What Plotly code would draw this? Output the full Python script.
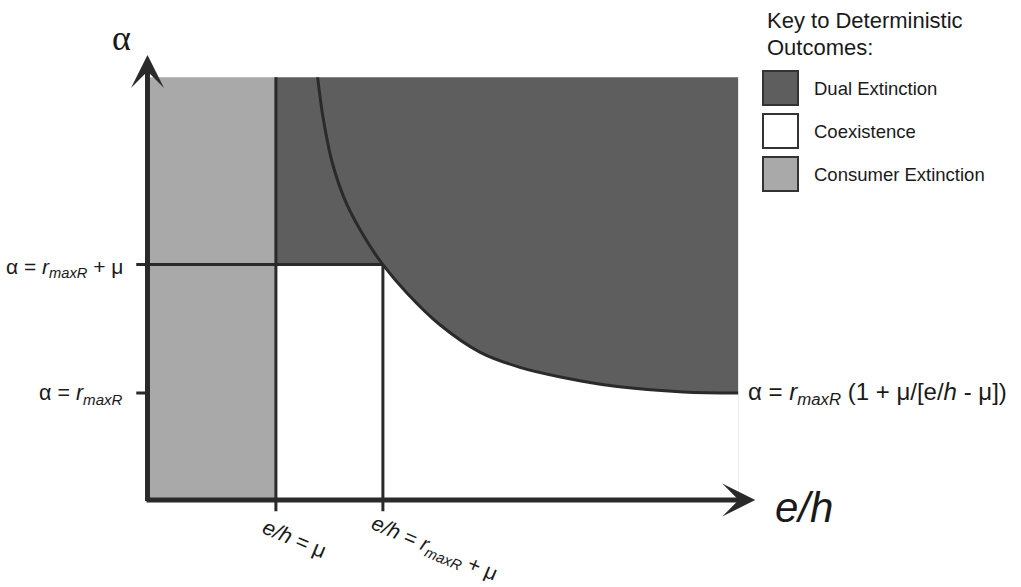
import plotly.graph_objects as go

# ---- model quantities (axis units) ----
mu = 1.2            # consumer mortality
r_max = 1.0         # maximum resource growth rate, r_maxR
eh_mu = mu                  # e/h = mu
eh_rmu = r_max + mu         # e/h = r_maxR + mu
alpha_r = r_max             # alpha = r_maxR
alpha_rmu = r_max + mu      # alpha = r_maxR + mu
x_end, y_top = 5.52, 3.95   # extent of the shaded parameter space
x_tip, y_tip = 5.68, 4.16   # axis arrow tips

# boundary alpha = r_maxR (1 + mu/[e/h - mu]), sampled along the drawn curve
curve_x = [1.59, 1.64, 1.73, 1.86, 2.05, 2.20, 2.42, 2.73, 3.11, 3.48, 3.86, 4.39, 5.01, 5.52]
curve_y = [3.95, 3.58, 3.14, 2.77, 2.42, 2.20, 1.94, 1.64, 1.38, 1.24, 1.15, 1.06, 1.01, 1.00]

legend_labels = ["Dual Extinction", "Coexistence", "Consumer Extinction"]

DARK = "#5e5e5e"
LIGHT = "#a9a9a9"
WHITE = "#ffffff"
LINE = "#2a2a2a"
legend_colors = [DARK, WHITE, LIGHT]

# ---- page geometry ----
W, H = 1021, 587
ox, oy, scale = 147.5, 500.0, 107.0   # pixel position of the origin, pixels per unit


def paper(xp, yp):
    return xp / W, 1 - yp / H


fig = go.Figure()

# white region below the boundary curve (right of e/h = r_maxR + mu)
i0 = curve_x.index(eh_rmu)
fig.add_trace(go.Scatter(
    x=curve_x[i0:], y=curve_y[i0:], mode="lines",
    line=dict(width=0, shape="spline", color=WHITE),
    fill="tozeroy", fillcolor=WHITE, hoverinfo="skip", showlegend=False))

# boundary curve
fig.add_trace(go.Scatter(
    x=curve_x, y=curve_y, mode="lines",
    line=dict(width=3, shape="spline", color=LINE),
    hoverinfo="skip", showlegend=False))

shapes = [
    # consumer extinction
    dict(type="rect", x0=0, x1=eh_mu, y0=0, y1=y_top, fillcolor=LIGHT,
         line=dict(width=0), layer="below"),
    # dual extinction
    dict(type="rect", x0=eh_mu, x1=x_end, y0=0, y1=y_top, fillcolor=DARK,
         line=dict(width=0), layer="below"),
    # coexistence block
    dict(type="rect", x0=eh_mu, x1=eh_rmu, y0=0, y1=alpha_rmu, fillcolor=WHITE,
         line=dict(width=0), layer="below"),
]

tick = 0.105
line_style = dict(color=LINE, width=3)
shapes += [
    dict(type="line", x0=eh_mu, x1=eh_mu, y0=-tick, y1=y_top, line=line_style),
    dict(type="line", x0=eh_rmu, x1=eh_rmu, y0=-tick, y1=alpha_rmu, line=line_style),
    dict(type="line", x0=-tick, x1=eh_rmu, y0=alpha_rmu, y1=alpha_rmu, line=line_style),
    dict(type="line", x0=-tick, x1=0, y0=alpha_r, y1=alpha_r, line=line_style),
]

# key boxes
box_rows = [(71, 105), (114, 148), (157, 191)]
for (t, b), col in zip(box_rows, legend_colors):
    x0, y0 = paper(763, b)
    x1, y1 = paper(798, t)
    shapes.append(dict(type="rect", xref="paper", yref="paper", x0=x0, x1=x1, y0=y0, y1=y1,
                       fillcolor=col, line=dict(color="#333333", width=2)))

fig.update_layout(shapes=shapes)

annotations = []
half = 2.5 / scale
# axes with arrow heads
for tip, tail in (((0, y_tip), (0, -half)), ((x_tip, 0), (-half, 0))):
    annotations.append(dict(x=tip[0], y=tip[1], ax=tail[0], ay=tail[1],
                            xref="x", yref="y", axref="x", ayref="y",
                            text="", showarrow=True, arrowhead=3, arrowsize=1.1,
                            arrowwidth=5, arrowcolor=LINE, standoff=0))

SANS = "Liberation Sans, Arial, sans-serif"


def label(xp, yp, text, size, xanchor="left", angle=0, family=SANS):
    px_, py_ = paper(xp, yp)
    annotations.append(dict(x=px_, y=py_, xref="paper", yref="paper", text=text,
                            showarrow=False, xanchor=xanchor, yanchor="middle",
                            textangle=angle, font=dict(family=family, size=size, color="#1a1a1a")))


R_SUB = "<i>r</i><sub><i>maxR</i></sub>"

label(121, 38, "α", 36, xanchor="center", family="Liberation Serif, serif")
label(125, 268, "α = " + R_SUB + " + μ", 21, xanchor="right")
label(125, 394, "α = " + R_SUB, 21.5, xanchor="right")
label(294, 539, "<i>e/h</i> = μ", 21.5, xanchor="center", angle=23)
label(434, 549, "<i>e/h</i> = " + R_SUB + " + μ", 21, xanchor="center", angle=23)
label(773, 507, "<i>e/h</i>", 42)
label(746, 393, "α = " + R_SUB + " (1 + μ/[e/<i>h</i> - μ])", 24)

label(765, 20, "Key to Deterministic", 22)
label(765, 48, "Outcomes:", 22)
for (t, b), name in zip(box_rows, legend_labels):
    label(812, (t + b) / 2, name, 18.5)

fig.update_layout(annotations=annotations)

fig.update_layout(
    width=W, height=H,
    margin=dict(l=0, r=0, t=0, b=0),
    paper_bgcolor="white", plot_bgcolor="white",
    showlegend=False,
    xaxis=dict(range=[-ox / scale, (W - ox) / scale], visible=False, fixedrange=True),
    yaxis=dict(range=[-(H - oy) / scale, oy / scale], visible=False, fixedrange=True),
)

fig.write_html("out.html")
